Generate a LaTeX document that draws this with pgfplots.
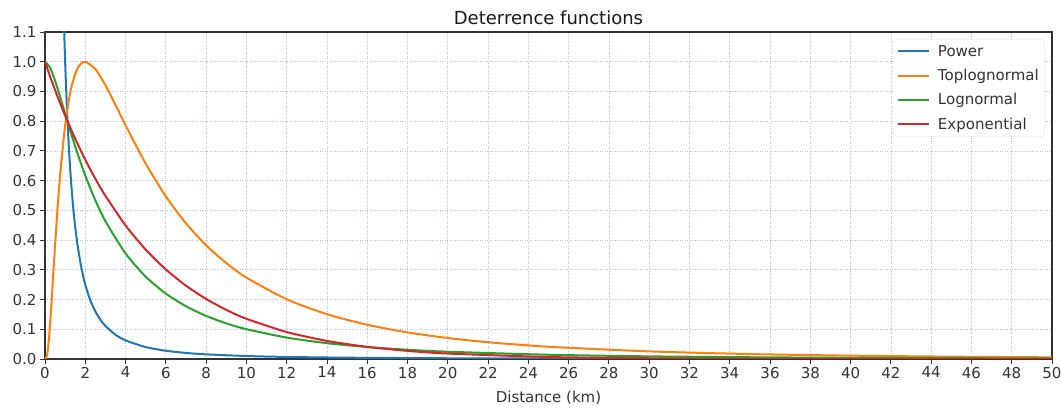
\documentclass[border=0pt]{standalone}
\usepackage{fontspec}
\setmainfont{DejaVu Sans}
\usepackage{pgfplots}
\pgfplotsset{compat=1.18}
\definecolor{tabblue}{HTML}{1F77B4}
\definecolor{taborange}{HTML}{FF7F0E}
\definecolor{tabgreen}{HTML}{2CA02C}
\definecolor{tabred}{HTML}{D62728}
\definecolor{gridc}{HTML}{B0C4DE}
\definecolor{txt}{HTML}{333333}
\begin{document}
\begin{tikzpicture}
\begin{axis}[
  name=ax,
  scale only axis, width=1007bp, height=327bp,
  xmin=0, xmax=50, ymin=0, ymax=1.1,
  xtick={0,2,...,50},
  ytick={0,0.1,0.2,0.3,0.4,0.5,0.6,0.7,0.8,0.9,1.0,1.1},
  yticklabel style={xshift=-0.5bp, /pgf/number format/fixed, /pgf/number format/fixed zerofill, /pgf/number format/precision=1},
  /pgf/number format/assume math mode=true,
  grid=major,
  major grid style={dash pattern=on 1bp off 1.5bp, color=gridc, line width=0.7bp},
  axis line style={color=txt, line width=1.1bp},
  tick style={color=txt, line width=0.9bp},
  tick align=outside, major tick length=4.5bp,
  tick pos=left,
  ticklabel style={font=\fontsize{15bp}{17bp}\selectfont, text=txt},
  xticklabel style={yshift=0bp},
  title={Deterrence functions},
  title style={font=\fontsize{18bp}{21bp}\selectfont, yshift=-2bp, text=black!90},
  xlabel={Distance (km)},
  xlabel style={font=\fontsize{15bp}{17bp}\selectfont, yshift=-6bp, text=txt},
  legend style={at={(0.993,0.977)}, anchor=north east, draw=black!15, rounded corners=2.5bp,
    font=\fontsize{15bp}{18bp}\selectfont, text=txt, inner xsep=4bp, inner ysep=3.5bp,
    row sep=7.5bp},
  legend cell align=left,
  legend image code/.code={\draw[#1, line width=2bp] (0bp,0bp) -- (31bp,0bp);},
  every axis plot/.append style={line width=2bp, smooth, tension=0.4},
]
\addplot[tabblue] coordinates {
(0.8,1.5625) (0.9,1.2346) (1.0,1.0) (1.1,0.8264) (1.2,0.6944) (1.3,0.5917)
(1.4,0.5102) (1.5,0.4444) (1.6,0.3906) (1.8,0.3086) (2,0.25) (2.25,0.1975)
(2.5,0.16) (2.75,0.1322) (3,0.1111) (3.5,0.0816) (4,0.0625) (5,0.04)
(6,0.0278) (7,0.0204) (8,0.0156) (10,0.01) (12,0.0069) (15,0.0044)
(20,0.0025) (25,0.0016) (30,0.0011) (40,0.0006) (50,0.0004)};
\addlegendentry{\hspace{6bp}Power}
\addplot[taborange] coordinates {
(0,0) (0.1,0.0113) (0.2,0.0706) (0.3,0.1654) (0.4,0.2739) (0.5,0.3825)
(0.6,0.4844) (0.75,0.6182) (1.0,0.7864) (1.25,0.8954) (1.5,0.9595)
(1.75,0.9911) (2,1) (2.5,0.9754) (3,0.9211) (3.5,0.8550) (4,0.7864)
(5,0.6572) (6,0.5469) (7,0.4563) (8,0.3825) (9,0.3227) (10,0.2739)
(12,0.2009) (14,0.1506) (16,0.1151) (18,0.0895) (20,0.0706) (22,0.0564)
(25,0.0412) (30,0.0256) (35,0.0166) (40,0.0113) (45,0.0079) (50,0.0056)};
\addlegendentry{\hspace{6bp}Toplognormal}
\addplot[tabgreen] coordinates {
(0,1) (0.25,0.9803) (0.5,0.9364) (0.75,0.8822) (1,0.8251) (1.5,0.7148)
(2,0.6171) (2.5,0.5338) (3,0.4636) (4,0.3549) (5,0.2769) (6,0.2199)
(7,0.1774) (8,0.1450) (9,0.1199) (10,0.1003) (12,0.0720) (14,0.0532)
(16,0.0403) (18,0.0312) (20,0.0245) (25,0.0143) (30,0.0089) (35,0.0059)
(40,0.0040) (45,0.0028) (50,0.0021)};
\addlegendentry{\hspace{6bp}Lognormal}
\addplot[tabred] coordinates {
(0,1) (0.25,0.9512) (0.5,0.9048) (0.75,0.8607) (1,0.8187) (1.5,0.7408)
(2,0.6703) (2.5,0.6065) (3,0.5488) (4,0.4493) (5,0.3679) (6,0.3012)
(7,0.2466) (8,0.2019) (9,0.1653) (10,0.1353) (12,0.0907) (14,0.0608)
(16,0.0408) (18,0.0273) (20,0.0183) (25,0.0067) (30,0.0025) (35,0.0009)
(40,0.0003) (45,0.0001) (50,0.00005)};
\addlegendentry{\hspace{6bp}Exponential}
\end{axis}
\pgfresetboundingbox
\path ([shift={(-45bp,-51bp)}]ax.south west) rectangle ([shift={(1016bp,359bp)}]ax.south west);
\end{tikzpicture}
\end{document}
